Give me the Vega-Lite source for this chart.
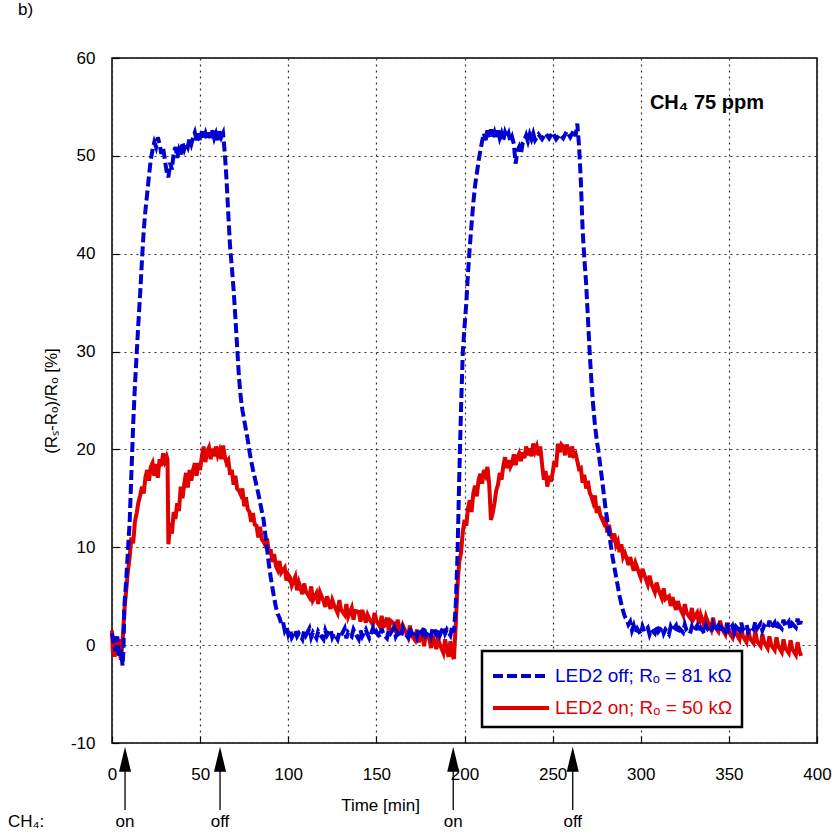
{
"$schema": "https://vega.github.io/schema/vega-lite/v6.json",
"width": 705, "height": 685,
"autosize": "none",
"padding": {"left": 112, "top": 58, "right": 18, "bottom": 94},
"background": "white",
"config": {"font": "Liberation Sans", "view": {"stroke": "#000", "strokeWidth": 1.5}},
"title": {"text": "b)", "anchor": "start", "frame": "group", "dx": -94, "offset": 30, "fontSize": 17, "fontWeight": "normal", "color": "#000"},
"datasets": {
"curves": [
{"t":0,"v":1.2,"s":"off"},{"t":1,"v":0.2,"s":"off"},{"t":2,"v":-0.6,"s":"off"},{"t":3,"v":0.9,"s":"off"},{"t":4,"v":-1.3,"s":"off"},{"t":5,"v":-0.4,"s":"off"},{"t":6,"v":-2.1,"s":"off"},{"t":6.5,"v":-0.5,"s":"off"},{"t":7,"v":4,"s":"off"},{"t":8,"v":6.5,"s":"off"},{"t":9,"v":9.5,"s":"off"},{"t":10,"v":12.5,"s":"off"},{"t":11,"v":17.5,"s":"off"},{"t":12,"v":22.5,"s":"off"},{"t":13,"v":26.5,"s":"off"},{"t":14,"v":29.8,"s":"off"},{"t":15,"v":33,"s":"off"},{"t":16,"v":36,"s":"off"},{"t":17,"v":39.3,"s":"off"},{"t":18,"v":42.4,"s":"off"},{"t":19,"v":44.5,"s":"off"},{"t":20,"v":46.2,"s":"off"},{"t":21,"v":48,"s":"off"},{"t":22,"v":49.6,"s":"off"},{"t":23,"v":50.6,"s":"off"},{"t":24,"v":51.4,"s":"off"},{"t":25,"v":50.9,"s":"off"},{"t":26,"v":51.9,"s":"off"},{"t":27,"v":51.2,"s":"off"},{"t":28,"v":50.2,"s":"off"},{"t":29,"v":50.8,"s":"off"},{"t":30,"v":49.6,"s":"off"},{"t":31,"v":48.4,"s":"off"},{"t":32,"v":47.8,"s":"off"},{"t":33,"v":49.3,"s":"off"},{"t":34,"v":48.6,"s":"off"},{"t":35,"v":50.3,"s":"off"},{"t":36,"v":50.9,"s":"off"},{"t":37,"v":49.8,"s":"off"},{"t":38,"v":50.6,"s":"off"},{"t":39,"v":50.1,"s":"off"},{"t":40,"v":51.4,"s":"off"},{"t":41,"v":50.7,"s":"off"},{"t":42,"v":51.3,"s":"off"},{"t":43,"v":50.9,"s":"off"},{"t":44,"v":51.8,"s":"off"},{"t":45,"v":51.2,"s":"off"},{"t":46,"v":51.9,"s":"off"},{"t":47,"v":52.4,"s":"off"},{"t":48,"v":51.6,"s":"off"},{"t":49,"v":52.3,"s":"off"},{"t":50,"v":51.5,"s":"off"},{"t":51,"v":52.5,"s":"off"},{"t":52,"v":51.8,"s":"off"},{"t":53,"v":52.3,"s":"off"},{"t":54,"v":51.6,"s":"off"},{"t":55,"v":52.4,"s":"off"},{"t":56,"v":51.7,"s":"off"},{"t":57,"v":52.6,"s":"off"},{"t":58,"v":51.8,"s":"off"},{"t":59,"v":52.3,"s":"off"},{"t":60,"v":51.6,"s":"off"},{"t":61,"v":52.5,"s":"off"},{"t":62,"v":51.9,"s":"off"},{"t":63,"v":52.3,"s":"off"},{"t":64,"v":50.3,"s":"off"},{"t":65,"v":47.5,"s":"off"},{"t":66,"v":44,"s":"off"},{"t":67,"v":40.7,"s":"off"},{"t":68,"v":38.6,"s":"off"},{"t":69,"v":36.3,"s":"off"},{"t":70,"v":33.5,"s":"off"},{"t":71,"v":30.5,"s":"off"},{"t":72,"v":27.5,"s":"off"},{"t":73,"v":25.4,"s":"off"},{"t":74,"v":24,"s":"off"},{"t":75,"v":23,"s":"off"},{"t":76,"v":22,"s":"off"},{"t":77,"v":21,"s":"off"},{"t":78,"v":19.8,"s":"off"},{"t":79,"v":18.8,"s":"off"},{"t":80,"v":17.9,"s":"off"},{"t":81,"v":17.1,"s":"off"},{"t":82,"v":16.3,"s":"off"},{"t":83,"v":15.5,"s":"off"},{"t":84,"v":14.6,"s":"off"},{"t":85,"v":13.7,"s":"off"},{"t":86,"v":12.8,"s":"off"},{"t":87,"v":11.3,"s":"off"},{"t":88,"v":9.8,"s":"off"},{"t":89,"v":8.3,"s":"off"},{"t":90,"v":7,"s":"off"},{"t":91,"v":5.9,"s":"off"},{"t":92,"v":4.8,"s":"off"},{"t":93,"v":3.9,"s":"off"},{"t":94,"v":3.2,"s":"off"},{"t":95,"v":2.8,"s":"off"},{"t":96,"v":2.2,"s":"off"},{"t":97,"v":2.4,"s":"off"},{"t":98,"v":1.5,"s":"off"},{"t":99,"v":1.9,"s":"off"},
{"t":100,"v":1.1,"s":"off"},{"t":101,"v":1.6,"s":"off"},{"t":102,"v":0.8,"s":"off"},{"t":104,"v":1.5,"s":"off"},{"t":105,"v":0.9,"s":"off"},{"t":106,"v":1.2,"s":"off"},{"t":108,"v":0.6,"s":"off"},{"t":109,"v":1.5,"s":"off"},{"t":110,"v":1.0,"s":"off"},{"t":112,"v":1.7,"s":"off"},{"t":113,"v":0.8,"s":"off"},{"t":114,"v":1.3,"s":"off"},{"t":116,"v":0.7,"s":"off"},{"t":117,"v":1.4,"s":"off"},{"t":118,"v":1.1,"s":"off"},{"t":120,"v":0.6,"s":"off"},{"t":121,"v":1.5,"s":"off"},{"t":122,"v":1.0,"s":"off"},{"t":124,"v":1.6,"s":"off"},{"t":125,"v":0.8,"s":"off"},{"t":126,"v":1.2,"s":"off"},{"t":128,"v":0.6,"s":"off"},{"t":129,"v":1.3,"s":"off"},{"t":130,"v":1.0,"s":"off"},{"t":132,"v":1.7,"s":"off"},{"t":133,"v":0.7,"s":"off"},{"t":134,"v":1.3,"s":"off"},{"t":136,"v":0.9,"s":"off"},{"t":137,"v":1.6,"s":"off"},{"t":138,"v":1.2,"s":"off"},{"t":140,"v":0.6,"s":"off"},{"t":141,"v":1.5,"s":"off"},{"t":142,"v":0.9,"s":"off"},{"t":144,"v":1.6,"s":"off"},{"t":145,"v":1.1,"s":"off"},{"t":146,"v":0.7,"s":"off"},{"t":148,"v":1.7,"s":"off"},{"t":149,"v":1.0,"s":"off"},{"t":150,"v":1.4,"s":"off"},{"t":152,"v":0.8,"s":"off"},{"t":153,"v":1.7,"s":"off"},{"t":154,"v":1.1,"s":"off"},{"t":156,"v":0.7,"s":"off"},{"t":157,"v":1.5,"s":"off"},{"t":158,"v":1.2,"s":"off"},{"t":160,"v":1.8,"s":"off"},{"t":161,"v":0.9,"s":"off"},{"t":162,"v":1.3,"s":"off"},{"t":164,"v":0.8,"s":"off"},{"t":165,"v":1.7,"s":"off"},{"t":166,"v":1.2,"s":"off"},{"t":168,"v":0.8,"s":"off"},{"t":169,"v":1.8,"s":"off"},{"t":170,"v":1.1,"s":"off"},{"t":172,"v":1.5,"s":"off"},{"t":173,"v":0.9,"s":"off"},{"t":174,"v":1.7,"s":"off"},{"t":176,"v":1.2,"s":"off"},{"t":177,"v":1.9,"s":"off"},{"t":178,"v":1.0,"s":"off"},{"t":180,"v":1.4,"s":"off"},{"t":181,"v":0.9,"s":"off"},{"t":182,"v":1.8,"s":"off"},{"t":184,"v":1.1,"s":"off"},{"t":185,"v":1.6,"s":"off"},{"t":186,"v":1.0,"s":"off"},{"t":188,"v":1.9,"s":"off"},{"t":189,"v":1.2,"s":"off"},{"t":190,"v":1.6,"s":"off"},{"t":192,"v":1.0,"s":"off"},{"t":193,"v":1.9,"s":"off"},{"t":194,"v":1.3,"s":"off"},
{"t":195,"v":4,"s":"off"},{"t":196,"v":9,"s":"off"},{"t":197,"v":17,"s":"off"},{"t":198,"v":24,"s":"off"},{"t":199,"v":29.8,"s":"off"},{"t":200,"v":32.5,"s":"off"},{"t":201,"v":34.9,"s":"off"},{"t":202,"v":38,"s":"off"},{"t":203,"v":40.7,"s":"off"},{"t":204,"v":43,"s":"off"},{"t":205,"v":45.2,"s":"off"},{"t":206,"v":47,"s":"off"},{"t":207,"v":48.2,"s":"off"},{"t":208,"v":49.5,"s":"off"},{"t":209,"v":50.5,"s":"off"},{"t":210,"v":51.5,"s":"off"},{"t":211,"v":52.3,"s":"off"},{"t":212,"v":51.6,"s":"off"},{"t":213,"v":52.6,"s":"off"},{"t":214,"v":51.8,"s":"off"},{"t":215,"v":52.7,"s":"off"},{"t":216,"v":51.9,"s":"off"},{"t":217,"v":52.4,"s":"off"},{"t":218,"v":51.7,"s":"off"},{"t":219,"v":52.6,"s":"off"},{"t":220,"v":51.8,"s":"off"},{"t":221,"v":52.3,"s":"off"},{"t":222,"v":51.6,"s":"off"},{"t":223,"v":52.4,"s":"off"},{"t":224,"v":51.9,"s":"off"},{"t":225,"v":52.3,"s":"off"},{"t":226,"v":51.4,"s":"off"},{"t":227,"v":51.9,"s":"off"},{"t":228,"v":51.2,"s":"off"},{"t":229,"v":49.2,"s":"off"},{"t":230,"v":50.5,"s":"off"},{"t":231,"v":50.9,"s":"off"},{"t":232,"v":50.2,"s":"off"},{"t":233,"v":51.3,"s":"off"},{"t":234,"v":51.6,"s":"off"},{"t":235,"v":52.1,"s":"off"},{"t":236,"v":51.5,"s":"off"},{"t":237,"v":52.2,"s":"off"},{"t":238,"v":51.7,"s":"off"},{"t":239,"v":52.3,"s":"off"},{"t":240,"v":51.6,"s":"off"},{"t":242,"v":52.2,"s":"off"},{"t":244,"v":51.7,"s":"off"},{"t":246,"v":52.3,"s":"off"},{"t":248,"v":51.8,"s":"off"},{"t":250,"v":52.4,"s":"off"},{"t":252,"v":51.7,"s":"off"},{"t":254,"v":52.2,"s":"off"},{"t":256,"v":51.8,"s":"off"},{"t":258,"v":52.5,"s":"off"},{"t":260,"v":51.9,"s":"off"},{"t":262,"v":52.6,"s":"off"},{"t":263,"v":52.0,"s":"off"},{"t":264,"v":53.3,"s":"off"},{"t":265,"v":51,"s":"off"},{"t":266,"v":47.5,"s":"off"},{"t":267,"v":42.5,"s":"off"},{"t":268,"v":39.5,"s":"off"},{"t":269,"v":37,"s":"off"},{"t":270,"v":33.5,"s":"off"},{"t":271,"v":30,"s":"off"},{"t":272,"v":27,"s":"off"},{"t":273,"v":24.5,"s":"off"},{"t":274,"v":22.5,"s":"off"},{"t":275,"v":21,"s":"off"},{"t":276,"v":19.8,"s":"off"},{"t":277,"v":18.4,"s":"off"},{"t":278,"v":17,"s":"off"},{"t":279,"v":15.5,"s":"off"},{"t":280,"v":14,"s":"off"},{"t":281,"v":12.8,"s":"off"},{"t":282,"v":11.5,"s":"off"},{"t":283,"v":10.2,"s":"off"},{"t":284,"v":9,"s":"off"},{"t":285,"v":8,"s":"off"},{"t":286,"v":7,"s":"off"},{"t":287,"v":6,"s":"off"},{"t":288,"v":5,"s":"off"},{"t":289,"v":4.2,"s":"off"},{"t":290,"v":3.5,"s":"off"},{"t":291,"v":2.9,"s":"off"},{"t":292,"v":2.6,"s":"off"},{"t":293,"v":2.1,"s":"off"},{"t":294,"v":2.4,"s":"off"},{"t":295,"v":1.5,"s":"off"},
{"t":296,"v":2.0,"s":"off"},{"t":297,"v":1.3,"s":"off"},{"t":298,"v":1.7,"s":"off"},{"t":300,"v":1.1,"s":"off"},{"t":301,"v":1.9,"s":"off"},{"t":302,"v":1.4,"s":"off"},{"t":304,"v":1.8,"s":"off"},{"t":305,"v":1.1,"s":"off"},{"t":306,"v":1.6,"s":"off"},{"t":308,"v":1.2,"s":"off"},{"t":309,"v":2.0,"s":"off"},{"t":310,"v":1.4,"s":"off"},{"t":312,"v":1.9,"s":"off"},{"t":313,"v":1.2,"s":"off"},{"t":314,"v":1.6,"s":"off"},{"t":316,"v":1.1,"s":"off"},{"t":317,"v":1.9,"s":"off"},{"t":318,"v":1.5,"s":"off"},{"t":320,"v":2.0,"s":"off"},{"t":321,"v":1.2,"s":"off"},{"t":322,"v":1.7,"s":"off"},{"t":324,"v":1.3,"s":"off"},{"t":325,"v":2.1,"s":"off"},{"t":326,"v":1.5,"s":"off"},{"t":328,"v":1.2,"s":"off"},{"t":329,"v":1.9,"s":"off"},{"t":330,"v":1.4,"s":"off"},{"t":332,"v":2.0,"s":"off"},{"t":333,"v":1.3,"s":"off"},{"t":334,"v":1.8,"s":"off"},{"t":336,"v":1.2,"s":"off"},{"t":337,"v":2.0,"s":"off"},{"t":338,"v":1.6,"s":"off"},{"t":340,"v":1.3,"s":"off"},{"t":341,"v":2.1,"s":"off"},{"t":342,"v":1.5,"s":"off"},{"t":344,"v":2.0,"s":"off"},{"t":345,"v":1.3,"s":"off"},{"t":346,"v":1.8,"s":"off"},{"t":348,"v":1.4,"s":"off"},{"t":349,"v":2.2,"s":"off"},{"t":350,"v":1.5,"s":"off"},{"t":352,"v":2.0,"s":"off"},{"t":353,"v":1.3,"s":"off"},{"t":354,"v":1.9,"s":"off"},{"t":356,"v":1.5,"s":"off"},{"t":357,"v":2.3,"s":"off"},{"t":358,"v":1.6,"s":"off"},{"t":360,"v":2.1,"s":"off"},{"t":361,"v":1.4,"s":"off"},{"t":362,"v":1.9,"s":"off"},{"t":364,"v":1.6,"s":"off"},{"t":365,"v":2.4,"s":"off"},{"t":366,"v":1.7,"s":"off"},{"t":368,"v":2.2,"s":"off"},{"t":369,"v":1.5,"s":"off"},{"t":370,"v":2.0,"s":"off"},{"t":372,"v":1.7,"s":"off"},{"t":373,"v":2.5,"s":"off"},{"t":374,"v":1.8,"s":"off"},{"t":376,"v":2.3,"s":"off"},{"t":377,"v":1.6,"s":"off"},{"t":378,"v":2.1,"s":"off"},{"t":380,"v":1.7,"s":"off"},{"t":381,"v":2.6,"s":"off"},{"t":382,"v":1.9,"s":"off"},{"t":384,"v":2.4,"s":"off"},{"t":385,"v":1.6,"s":"off"},{"t":386,"v":2.2,"s":"off"},{"t":388,"v":1.8,"s":"off"},{"t":389,"v":2.7,"s":"off"},{"t":390,"v":1.9,"s":"off"},{"t":391,"v":2.5,"s":"off"},
{"t":0,"v":1.5,"s":"on"},{"t":0.5,"v":-0.8,"s":"on"},{"t":1,"v":0.9,"s":"on"},{"t":1.5,"v":-1.2,"s":"on"},{"t":2,"v":0.7,"s":"on"},{"t":3,"v":-1.0,"s":"on"},{"t":4,"v":0.6,"s":"on"},{"t":5,"v":-1.5,"s":"on"},{"t":6,"v":0.3,"s":"on"},{"t":7,"v":3.5,"s":"on"},{"t":8,"v":5.5,"s":"on"},{"t":9,"v":7.5,"s":"on"},{"t":10,"v":9,"s":"on"},{"t":11,"v":11,"s":"on"},{"t":12,"v":10.4,"s":"on"},{"t":13,"v":12.6,"s":"on"},{"t":14,"v":13.5,"s":"on"},{"t":15,"v":14.6,"s":"on"},{"t":16,"v":15.3,"s":"on"},{"t":17,"v":16.2,"s":"on"},{"t":18,"v":15.5,"s":"on"},{"t":19,"v":17.2,"s":"on"},{"t":20,"v":17.9,"s":"on"},{"t":21,"v":16.8,"s":"on"},{"t":22,"v":18.2,"s":"on"},{"t":23,"v":18.6,"s":"on"},{"t":24,"v":17.3,"s":"on"},{"t":25,"v":18.5,"s":"on"},{"t":26,"v":17.1,"s":"on"},{"t":27,"v":19,"s":"on"},{"t":28,"v":18.3,"s":"on"},{"t":29,"v":19.6,"s":"on"},{"t":30,"v":18.8,"s":"on"},{"t":31,"v":19.3,"s":"on"},{"t":31.5,"v":19.0,"s":"on"},{"t":32,"v":10.3,"s":"on"},{"t":33,"v":12.5,"s":"on"},{"t":34,"v":11.4,"s":"on"},{"t":35,"v":13.6,"s":"on"},{"t":36,"v":12.9,"s":"on"},{"t":37,"v":14.5,"s":"on"},{"t":38,"v":13.7,"s":"on"},{"t":39,"v":16.2,"s":"on"},{"t":40,"v":15,"s":"on"},{"t":41,"v":16.5,"s":"on"},{"t":42,"v":17.6,"s":"on"},{"t":43,"v":16.1,"s":"on"},{"t":44,"v":17.9,"s":"on"},{"t":45,"v":16.8,"s":"on"},{"t":46,"v":17.9,"s":"on"},{"t":47,"v":18.6,"s":"on"},{"t":48,"v":17.3,"s":"on"},{"t":49,"v":18.6,"s":"on"},{"t":50,"v":17.9,"s":"on"},{"t":51,"v":19.3,"s":"on"},{"t":52,"v":20.3,"s":"on"},{"t":53,"v":18.7,"s":"on"},{"t":54,"v":19.8,"s":"on"},{"t":55,"v":20.2,"s":"on"},{"t":56,"v":19.0,"s":"on"},{"t":57,"v":20.1,"s":"on"},{"t":58,"v":19.3,"s":"on"},{"t":59,"v":20.3,"s":"on"},{"t":60,"v":19.4,"s":"on"},{"t":61,"v":19.9,"s":"on"},{"t":62,"v":19.0,"s":"on"},{"t":63,"v":20.4,"s":"on"},
{"t":64,"v":19.3,"s":"on"},{"t":65,"v":18.6,"s":"on"},{"t":66,"v":18.9,"s":"on"},{"t":67,"v":17.4,"s":"on"},{"t":68,"v":17.9,"s":"on"},{"t":69,"v":16.4,"s":"on"},{"t":70,"v":17.3,"s":"on"},{"t":71,"v":16.0,"s":"on"},{"t":72,"v":15.8,"s":"on"},{"t":73,"v":15.4,"s":"on"},{"t":74,"v":16.0,"s":"on"},{"t":75,"v":14.2,"s":"on"},{"t":76,"v":15.1,"s":"on"},{"t":77,"v":13.9,"s":"on"},{"t":78,"v":13.6,"s":"on"},{"t":79,"v":12.6,"s":"on"},{"t":80,"v":13.5,"s":"on"},{"t":81,"v":12.3,"s":"on"},{"t":82,"v":12.2,"s":"on"},{"t":83,"v":11.0,"s":"on"},{"t":84,"v":12.1,"s":"on"},{"t":85,"v":10.8,"s":"on"},{"t":86,"v":10.6,"s":"on"},{"t":87,"v":10.2,"s":"on"},{"t":88,"v":10.9,"s":"on"},{"t":89,"v":9.3,"s":"on"},{"t":90,"v":9.8,"s":"on"},{"t":91,"v":8.5,"s":"on"},{"t":92,"v":9.3,"s":"on"},{"t":93,"v":8.1,"s":"on"},{"t":94,"v":7.7,"s":"on"},{"t":95,"v":8.6,"s":"on"},{"t":96,"v":7.4,"s":"on"},{"t":98,"v":7.9,"s":"on"},{"t":99,"v":6.6,"s":"on"},{"t":100,"v":7.2,"s":"on"},{"t":101,"v":6.9,"s":"on"},{"t":102,"v":6.1,"s":"on"},{"t":104,"v":7.0,"s":"on"},{"t":105,"v":5.6,"s":"on"},{"t":106,"v":6.4,"s":"on"},{"t":108,"v":5.2,"s":"on"},{"t":109,"v":6.3,"s":"on"},{"t":110,"v":5.5,"s":"on"},{"t":112,"v":4.9,"s":"on"},{"t":113,"v":6.0,"s":"on"},{"t":114,"v":4.6,"s":"on"},{"t":116,"v":5.3,"s":"on"},{"t":117,"v":4.2,"s":"on"},{"t":118,"v":5.4,"s":"on"},{"t":120,"v":4.5,"s":"on"},{"t":121,"v":3.9,"s":"on"},{"t":122,"v":5.0,"s":"on"},{"t":124,"v":3.7,"s":"on"},{"t":125,"v":4.6,"s":"on"},{"t":126,"v":4.1,"s":"on"},{"t":128,"v":3.3,"s":"on"},{"t":129,"v":4.6,"s":"on"},{"t":130,"v":3.6,"s":"on"},{"t":132,"v":3.1,"s":"on"},{"t":133,"v":4.2,"s":"on"},{"t":134,"v":2.9,"s":"on"},{"t":136,"v":3.8,"s":"on"},{"t":137,"v":2.6,"s":"on"},{"t":138,"v":3.5,"s":"on"},{"t":140,"v":3.4,"s":"on"},{"t":141,"v":2.4,"s":"on"},{"t":142,"v":3.6,"s":"on"},{"t":144,"v":2.3,"s":"on"},{"t":145,"v":3.1,"s":"on"},{"t":146,"v":2.7,"s":"on"},{"t":148,"v":2.1,"s":"on"},{"t":149,"v":3.3,"s":"on"},{"t":150,"v":2.5,"s":"on"},{"t":152,"v":1.9,"s":"on"},{"t":153,"v":3.0,"s":"on"},{"t":154,"v":1.8,"s":"on"},{"t":156,"v":2.8,"s":"on"},{"t":157,"v":1.5,"s":"on"},{"t":158,"v":2.5,"s":"on"},{"t":160,"v":2.2,"s":"on"},{"t":161,"v":1.3,"s":"on"},{"t":162,"v":2.6,"s":"on"},{"t":164,"v":1.2,"s":"on"},{"t":165,"v":2.0,"s":"on"},{"t":166,"v":1.6,"s":"on"},{"t":168,"v":0.8,"s":"on"},{"t":169,"v":2.0,"s":"on"},{"t":170,"v":1.0,"s":"on"},{"t":172,"v":0.5,"s":"on"},{"t":173,"v":1.6,"s":"on"},{"t":174,"v":0.3,"s":"on"},{"t":176,"v":1.3,"s":"on"},{"t":177,"v":-0.1,"s":"on"},{"t":178,"v":1.0,"s":"on"},{"t":180,"v":0.7,"s":"on"},{"t":181,"v":-0.3,"s":"on"},{"t":182,"v":1.0,"s":"on"},{"t":184,"v":-0.4,"s":"on"},{"t":185,"v":0.6,"s":"on"},{"t":186,"v":0.1,"s":"on"},{"t":188,"v":-0.8,"s":"on"},{"t":189,"v":0.6,"s":"on"},{"t":190,"v":-0.5,"s":"on"},{"t":191,"v":-1.2,"s":"on"},{"t":192,"v":0.4,"s":"on"},{"t":193,"v":-1.0,"s":"on"},{"t":194,"v":-1.4,"s":"on"},
{"t":195,"v":2,"s":"on"},{"t":196,"v":6,"s":"on"},{"t":197,"v":8.5,"s":"on"},{"t":198,"v":9.4,"s":"on"},{"t":199,"v":11.5,"s":"on"},{"t":200,"v":12.8,"s":"on"},{"t":201,"v":12.2,"s":"on"},{"t":202,"v":14,"s":"on"},{"t":203,"v":14.8,"s":"on"},{"t":204,"v":13.6,"s":"on"},{"t":205,"v":15.5,"s":"on"},{"t":206,"v":16.3,"s":"on"},{"t":207,"v":15.2,"s":"on"},{"t":208,"v":16.9,"s":"on"},{"t":209,"v":17.5,"s":"on"},{"t":210,"v":16.5,"s":"on"},{"t":211,"v":17.9,"s":"on"},{"t":212,"v":17.4,"s":"on"},{"t":213,"v":18.2,"s":"on"},{"t":214,"v":16.5,"s":"on"},{"t":215,"v":12.8,"s":"on"},{"t":216,"v":13.5,"s":"on"},{"t":217,"v":14.5,"s":"on"},{"t":218,"v":15.8,"s":"on"},{"t":219,"v":16.4,"s":"on"},{"t":220,"v":17.6,"s":"on"},{"t":221,"v":16.9,"s":"on"},{"t":222,"v":18.3,"s":"on"},{"t":223,"v":19.2,"s":"on"},{"t":224,"v":18.1,"s":"on"},{"t":225,"v":18.9,"s":"on"},{"t":226,"v":18.2,"s":"on"},{"t":227,"v":18.6,"s":"on"},{"t":228,"v":19.5,"s":"on"},{"t":229,"v":18.4,"s":"on"},{"t":230,"v":19.2,"s":"on"},{"t":231,"v":19.6,"s":"on"},{"t":232,"v":18.8,"s":"on"},{"t":233,"v":19.7,"s":"on"},{"t":234,"v":19.1,"s":"on"},{"t":235,"v":20.3,"s":"on"},{"t":236,"v":19.4,"s":"on"},{"t":237,"v":20.1,"s":"on"},{"t":238,"v":19.3,"s":"on"},{"t":239,"v":20.6,"s":"on"},{"t":240,"v":19.8,"s":"on"},{"t":241,"v":20.3,"s":"on"},{"t":242,"v":19.4,"s":"on"},{"t":243,"v":20.3,"s":"on"},{"t":244,"v":18.5,"s":"on"},{"t":245,"v":16.9,"s":"on"},{"t":246,"v":17.8,"s":"on"},{"t":247,"v":16.2,"s":"on"},{"t":248,"v":17.3,"s":"on"},{"t":249,"v":16.7,"s":"on"},{"t":250,"v":17.6,"s":"on"},{"t":251,"v":18.8,"s":"on"},{"t":252,"v":18.2,"s":"on"},{"t":253,"v":20.6,"s":"on"},{"t":254,"v":19.7,"s":"on"},{"t":255,"v":20.5,"s":"on"},{"t":256,"v":20.3,"s":"on"},{"t":257,"v":19.4,"s":"on"},{"t":258,"v":20.5,"s":"on"},{"t":259,"v":19.9,"s":"on"},{"t":260,"v":19.2,"s":"on"},{"t":261,"v":20.3,"s":"on"},{"t":262,"v":19.4,"s":"on"},{"t":263,"v":19.6,"s":"on"},
{"t":264,"v":18.8,"s":"on"},{"t":265,"v":18.0,"s":"on"},{"t":266,"v":18.1,"s":"on"},{"t":267,"v":16.6,"s":"on"},{"t":268,"v":17.4,"s":"on"},{"t":269,"v":16.0,"s":"on"},{"t":270,"v":16.8,"s":"on"},{"t":271,"v":15.6,"s":"on"},{"t":272,"v":15.2,"s":"on"},{"t":273,"v":14.6,"s":"on"},{"t":274,"v":15.3,"s":"on"},{"t":275,"v":13.5,"s":"on"},{"t":276,"v":14.2,"s":"on"},{"t":277,"v":13.3,"s":"on"},{"t":278,"v":12.9,"s":"on"},{"t":279,"v":12.5,"s":"on"},{"t":280,"v":13.1,"s":"on"},{"t":281,"v":11.5,"s":"on"},{"t":282,"v":12.3,"s":"on"},{"t":283,"v":11.2,"s":"on"},{"t":284,"v":10.9,"s":"on"},{"t":285,"v":11.4,"s":"on"},{"t":286,"v":10.2,"s":"on"},{"t":287,"v":10.6,"s":"on"},{"t":288,"v":9.5,"s":"on"},{"t":289,"v":10.3,"s":"on"},{"t":290,"v":9.0,"s":"on"},{"t":291,"v":9.4,"s":"on"},{"t":292,"v":8.9,"s":"on"},{"t":293,"v":8.2,"s":"on"},{"t":294,"v":9.0,"s":"on"},{"t":296,"v":7.6,"s":"on"},{"t":297,"v":8.4,"s":"on"},{"t":298,"v":7.9,"s":"on"},{"t":300,"v":6.9,"s":"on"},{"t":301,"v":7.8,"s":"on"},{"t":302,"v":7.2,"s":"on"},{"t":304,"v":6.2,"s":"on"},{"t":305,"v":7.1,"s":"on"},{"t":306,"v":6.3,"s":"on"},{"t":308,"v":5.4,"s":"on"},{"t":309,"v":6.4,"s":"on"},{"t":310,"v":5.7,"s":"on"},{"t":312,"v":4.8,"s":"on"},{"t":313,"v":5.8,"s":"on"},{"t":314,"v":4.7,"s":"on"},{"t":316,"v":5.0,"s":"on"},{"t":317,"v":4.0,"s":"on"},{"t":318,"v":4.9,"s":"on"},{"t":320,"v":3.6,"s":"on"},{"t":321,"v":4.5,"s":"on"},{"t":322,"v":3.9,"s":"on"},{"t":324,"v":3.1,"s":"on"},{"t":325,"v":4.2,"s":"on"},{"t":326,"v":3.3,"s":"on"},{"t":328,"v":2.8,"s":"on"},{"t":329,"v":3.8,"s":"on"},{"t":330,"v":2.7,"s":"on"},{"t":332,"v":3.3,"s":"on"},{"t":333,"v":2.2,"s":"on"},{"t":334,"v":3.1,"s":"on"},{"t":336,"v":2.0,"s":"on"},{"t":337,"v":2.9,"s":"on"},{"t":338,"v":2.4,"s":"on"},{"t":340,"v":1.6,"s":"on"},{"t":341,"v":2.8,"s":"on"},{"t":342,"v":1.9,"s":"on"},{"t":344,"v":1.4,"s":"on"},{"t":345,"v":2.5,"s":"on"},{"t":346,"v":1.7,"s":"on"},{"t":348,"v":1.1,"s":"on"},{"t":349,"v":2.3,"s":"on"},{"t":350,"v":1.4,"s":"on"},{"t":352,"v":0.8,"s":"on"},{"t":353,"v":2.0,"s":"on"},{"t":354,"v":1.2,"s":"on"},{"t":356,"v":0.6,"s":"on"},{"t":357,"v":1.8,"s":"on"},{"t":358,"v":0.9,"s":"on"},{"t":360,"v":0.3,"s":"on"},{"t":361,"v":1.6,"s":"on"},{"t":362,"v":0.7,"s":"on"},{"t":364,"v":0.2,"s":"on"},{"t":365,"v":1.4,"s":"on"},{"t":366,"v":0.4,"s":"on"},{"t":368,"v":-0.1,"s":"on"},{"t":369,"v":1.1,"s":"on"},{"t":370,"v":0.3,"s":"on"},{"t":372,"v":-0.3,"s":"on"},{"t":373,"v":0.9,"s":"on"},{"t":374,"v":0.0,"s":"on"},{"t":376,"v":-0.5,"s":"on"},{"t":377,"v":0.8,"s":"on"},{"t":378,"v":-0.1,"s":"on"},{"t":380,"v":-0.7,"s":"on"},{"t":381,"v":0.6,"s":"on"},{"t":382,"v":-0.3,"s":"on"},{"t":384,"v":-0.8,"s":"on"},{"t":385,"v":0.5,"s":"on"},{"t":386,"v":-0.4,"s":"on"},{"t":388,"v":-1.0,"s":"on"},{"t":389,"v":0.3,"s":"on"},{"t":390,"v":-0.6,"s":"on"},{"t":391,"v":-1.1,"s":"on"}
],
"events": [
{"t":7.4,"v":-11.65,"v2":-16.85,"ly":-18.04,"lab":"on"},
{"t":61.3,"v":-11.65,"v2":-16.85,"ly":-18.04,"lab":"off"},
{"t":193.6,"v":-11.65,"v2":-16.85,"ly":-18.04,"lab":"on"},
{"t":261.4,"v":-11.65,"v2":-16.85,"ly":-18.04,"lab":"off"}
],
"notes": [
{"t":-59,"v":-18.04,"txt":"CH₄:","kind":"gas"},
{"t":305.2,"v":55.4,"txt":"CH₄ 75 ppm","kind":"conc"}
]
},
"layer": [
{
"data": {"name": "curves"},
"transform": [{"filter": "datum.s === 'on'"}],
"mark": {"type": "line", "strokeWidth": 4, "interpolate": "linear"},
"encoding": {
"x": {"field": "t", "type": "quantitative", "scale": {"domain": [0, 400], "nice": false, "zero": false},
"axis": {"values": [0,50,100,150,200,250,300,350,400], "title": "Time  [min]", "titleX": 268, "titleY": 62, "titleBaseline": "middle", "titleAlign": "center", "titleFontSize": 17, "titleFontWeight": "normal", "titleColor": "#000", "titleFont": "Liberation Sans",
"grid": true, "gridDash": [2, 4], "gridColor": "#333", "gridWidth": 1.2, "domain": false, "ticks": true, "tickSize": -7, "tickColor": "#000", "tickWidth": 1.2,
"labelFontSize": 17, "labelColor": "#000", "labelPadding": 30, "labelFlush": false, "labelOverlap": false, "labelFont": "Liberation Sans"}},
"y": {"field": "v", "type": "quantitative", "scale": {"domain": [-10, 60], "nice": false, "zero": false},
"axis": {"values": [-10,0,10,20,30,40,50,60], "labelExpr": "'' + datum.value", "title": "(Rₛ-Rₒ)/Rₒ  [%]", "titleFontSize": 17, "titleFontWeight": "normal", "titleColor": "#000", "titlePadding": 10, "titleFont": "Liberation Sans",
"grid": true, "gridDash": [2, 4], "gridColor": "#333", "gridWidth": 1.2, "domain": false, "ticks": true, "tickSize": -7, "tickColor": "#000", "tickWidth": 1.2,
"labelFontSize": 17, "labelColor": "#000", "labelPadding": 24, "labelFont": "Liberation Sans"}},
"color": {"field": "s", "type": "nominal", "scale": {"domain": ["off", "on"], "range": ["#0000d0", "#e00000"]},
"legend": {"title": null, "orient": "none", "legendX": 370, "legendY": 593, "direction": "vertical", "symbolType": "M-1,0H3", "symbolSize": 784, "symbolStrokeWidth": 4, "labelFontSize": 19, "labelFont": "Liberation Sans", "labelLimit": 300, "labelOffset": 32,
"labelExpr": "datum.value === 'off' ? 'LED2 off; Rₒ = 81 kΩ' : 'LED2 on; Rₒ = 50 kΩ'",
"strokeColor": "#000", "fillColor": "#fff", "padding": 9, "rowPadding": 6,
"encode": {"legend": {"update": {"strokeWidth": {"value": 2.5}}}, "labels": {"update": {"fill": {"signal": "datum.value === 'off' ? '#0000d0' : '#e00000'"}}}}}},
"strokeDash": {"field": "s", "type": "nominal", "scale": {"domain": ["off", "on"], "range": [[10, 4], [1, 0]]},
"legend": {"title": null, "orient": "none", "legendX": 370, "legendY": 593, "direction": "vertical", "symbolType": "M-1,0H3", "symbolSize": 784, "symbolStrokeWidth": 4, "labelFontSize": 19, "labelFont": "Liberation Sans", "labelLimit": 300, "labelOffset": 32,
"labelExpr": "datum.value === 'off' ? 'LED2 off; Rₒ = 81 kΩ' : 'LED2 on; Rₒ = 50 kΩ'",
"strokeColor": "#000", "fillColor": "#fff", "padding": 9, "rowPadding": 6,
"encode": {"legend": {"update": {"strokeWidth": {"value": 2.5}}}, "labels": {"update": {"fill": {"signal": "datum.value === 'off' ? '#0000d0' : '#e00000'"}}}}}}
}
},
{
"data": {"name": "curves"},
"transform": [{"filter": "datum.s === 'off'"}],
"mark": {"type": "line", "strokeWidth": 4, "interpolate": "linear"},
"encoding": {
"x": {"field": "t", "type": "quantitative", "scale": {"domain": [0, 400], "nice": false, "zero": false}},
"y": {"field": "v", "type": "quantitative", "scale": {"domain": [-10, 60], "nice": false, "zero": false}},
"color": {"field": "s", "type": "nominal"},
"strokeDash": {"field": "s", "type": "nominal"}
}
},
{
"data": {"name": "events"},
"mark": {"type": "rule", "color": "#000", "strokeWidth": 1.3},
"encoding": {
"x": {"field": "t", "type": "quantitative", "scale": {"domain": [0, 400], "nice": false, "zero": false}},
"y": {"field": "v", "type": "quantitative", "scale": {"domain": [-10, 60], "nice": false, "zero": false}},
"y2": {"field": "v2"}
}
},
{
"data": {"name": "events"},
"mark": {"type": "point", "shape": "M0,-1L0.48,1L-0.48,1Z", "filled": true, "color": "#000", "size": 625, "opacity": 1},
"encoding": {
"x": {"field": "t", "type": "quantitative", "scale": {"domain": [0, 400], "nice": false, "zero": false}},
"y": {"field": "v", "type": "quantitative", "scale": {"domain": [-10, 60], "nice": false, "zero": false}}
}
},
{
"data": {"name": "events"},
"mark": {"type": "text", "fontSize": 17, "font": "Liberation Sans", "color": "#000", "align": "center", "baseline": "middle"},
"encoding": {
"x": {"field": "t", "type": "quantitative", "scale": {"domain": [0, 400], "nice": false, "zero": false}},
"y": {"field": "ly", "type": "quantitative", "scale": {"domain": [-10, 60], "nice": false, "zero": false}},
"text": {"field": "lab"}
}
},
{
"data": {"name": "notes"},
"transform": [{"filter": "datum.kind === 'gas'"}],
"mark": {"type": "text", "fontSize": 17, "font": "Liberation Sans", "color": "#000", "align": "left", "baseline": "middle"},
"encoding": {
"x": {"field": "t", "type": "quantitative", "scale": {"domain": [0, 400], "nice": false, "zero": false}},
"y": {"field": "v", "type": "quantitative", "scale": {"domain": [-10, 60], "nice": false, "zero": false}},
"text": {"field": "txt"}
}
},
{
"data": {"name": "notes"},
"transform": [{"filter": "datum.kind === 'conc'"}],
"mark": {"type": "text", "fontSize": 20, "fontWeight": "bold", "font": "Liberation Sans", "color": "#000", "align": "left", "baseline": "middle"},
"encoding": {
"x": {"field": "t", "type": "quantitative", "scale": {"domain": [0, 400], "nice": false, "zero": false}},
"y": {"field": "v", "type": "quantitative", "scale": {"domain": [-10, 60], "nice": false, "zero": false}},
"text": {"field": "txt"}
}
}
]
}
